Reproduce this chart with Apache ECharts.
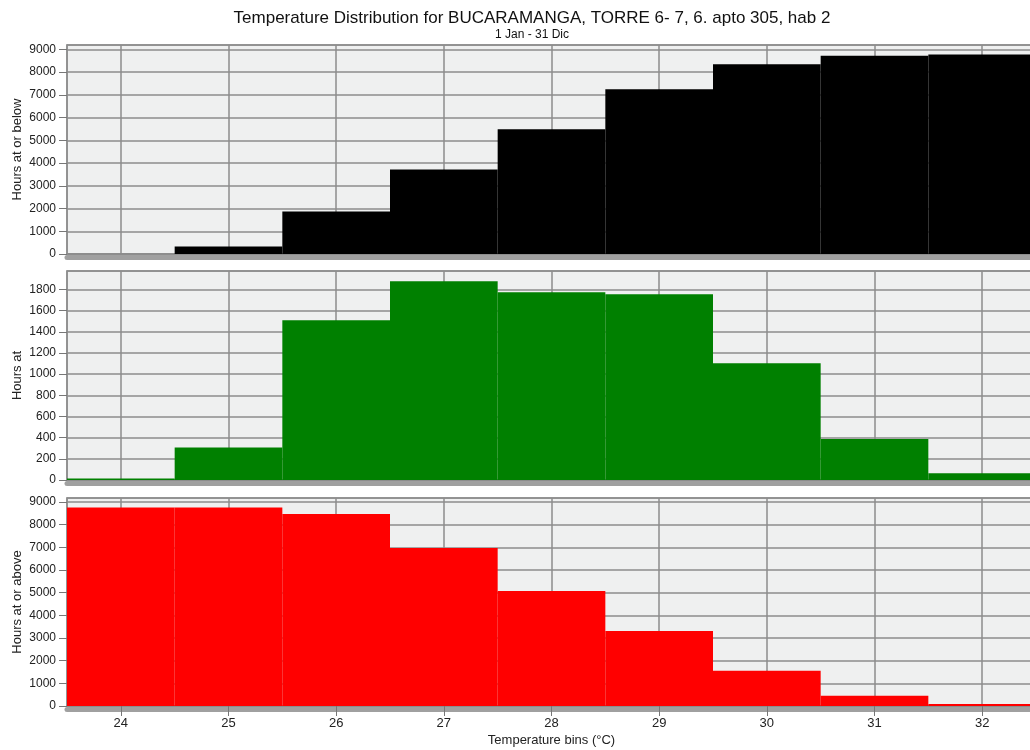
<!DOCTYPE html>
<html>
<head>
<meta charset="utf-8">
<script src="https://cdn.jsdelivr.net/npm/echarts@6/dist/echarts.min.js"></script>
<style>html,body{margin:0;padding:0;background:#fff}#c{width:1030px;height:750px}</style>
</head>
<body>
<div id="c"></div>
<script>
const categories = ['24','25','26','27','28','29','30','31','32'];
const hoursAtOrBelow = [5, 335, 1866, 3720, 5485, 7245, 8340, 8720, 8775];
const hoursAt = [15, 308, 1509, 1877, 1774, 1755, 1104, 387, 63];
const hoursAtOrAbove = [8765, 8765, 8470, 6970, 5075, 3310, 1555, 455, 85];
const titleText = 'Temperature Distribution for BUCARAMANGA, TORRE 6- 7, 6. apto 305, hab 2';
const subText = '1 Jan - 31 Dic';
const yNames = ['Hours at or below', 'Hours at', 'Hours at or above'];
const xName = 'Temperature bins (\u00B0C)';

const FONT = 'Liberation Sans, Arial, sans-serif';
const gridCfg = [
  {top: 45, height: 209},
  {top: 271, height: 209},
  {top: 498, height: 208}
];
const yMax = [9190, 1975, 9180];
const yInt = [1000, 200, 1000];
const colors = ['#000000', '#008000', '#ff0000'];
const datasets = [hoursAtOrBelow, hoursAt, hoursAtOrAbove];

const grids = gridCfg.map(g => ({
  left: 67, width: 969, top: g.top, height: g.height,
  outerBoundsMode: 'none', containLabel: false,
  show: true, backgroundColor: '#eff0f0', borderColor: '#8c8c8c', borderWidth: 1.5
}));

const xAxes = [];
[0,1,2].forEach(i => {
  xAxes.push({
    type: 'category', gridIndex: i, data: categories, boundaryGap: true,
    axisLine: {show: true, lineStyle: {color: '#8c8c8c', width: 1.5}},
    axisTick: {show: i === 2, alignWithLabel: true, length: 10, lineStyle: {color: '#777', width: 1}},
    axisLabel: {show: i === 2, color: '#222', fontSize: 13, fontFamily: FONT, margin: 11},
    splitLine: {show: true, alignWithLabel: true, lineStyle: {color: '#8c8c8c', width: 1.5}},
    name: i === 2 ? xName : '', nameLocation: 'middle', nameGap: 28, nameMoveOverlap: false,
    nameTextStyle: {color: '#222', fontSize: 13, fontFamily: FONT}
  });
});
// decorative shadow strip under each panel
[0,1,2].forEach(i => {
  xAxes.push({
    type: 'category', gridIndex: i, data: categories, boundaryGap: true, position: 'bottom',
    offset: 3, z: 0,
    axisLine: {show: true, lineStyle: {color: '#a0a0a0', width: 5}},
    axisTick: {show: false}, axisLabel: {show: false}, splitLine: {show: false}
  });
});

const yAxes = [0,1,2].map(i => ({
  type: 'value', gridIndex: i, min: 0, max: yMax[i], interval: yInt[i],
  axisLine: {show: true, lineStyle: {color: '#8c8c8c', width: 1.5}},
  axisTick: {show: true, length: 8, lineStyle: {color: '#777', width: 1}},
  axisLabel: {color: '#222', fontSize: 12, fontFamily: FONT, margin: 11, showMaxLabel: false,
    formatter: v => String(v)},
  splitLine: {show: true, lineStyle: {color: '#8c8c8c', width: 1.5}},
  name: yNames[i], nameLocation: 'middle', nameGap: 43, nameRotate: 90, nameMoveOverlap: false,
  nameTextStyle: {color: '#222', fontSize: 13, fontFamily: FONT}
}));

const series = [0,1,2].map(i => ({
  type: 'bar', xAxisIndex: i, yAxisIndex: i, data: datasets[i],
  barCategoryGap: '0%', barGap: '0%',
  itemStyle: {color: colors[i]}, silent: true, animation: false
}));

const chart = echarts.init(document.getElementById('c'), null, {renderer: 'canvas'});
chart.setOption({
  animation: false,
  backgroundColor: '#ffffff',
  title: [
    {text: titleText, left: 527, top: 5, textAlign: 'center',
     textStyle: {fontSize: 17, fontWeight: 'normal', color: '#111', fontFamily: FONT}},
    {text: subText, left: 527, top: 24, textAlign: 'center',
     textStyle: {fontSize: 12, fontWeight: 'normal', color: '#111', fontFamily: FONT}}
  ],
  grid: grids,
  xAxis: xAxes,
  yAxis: yAxes,
  series: series
});
</script>
</body>
</html>
